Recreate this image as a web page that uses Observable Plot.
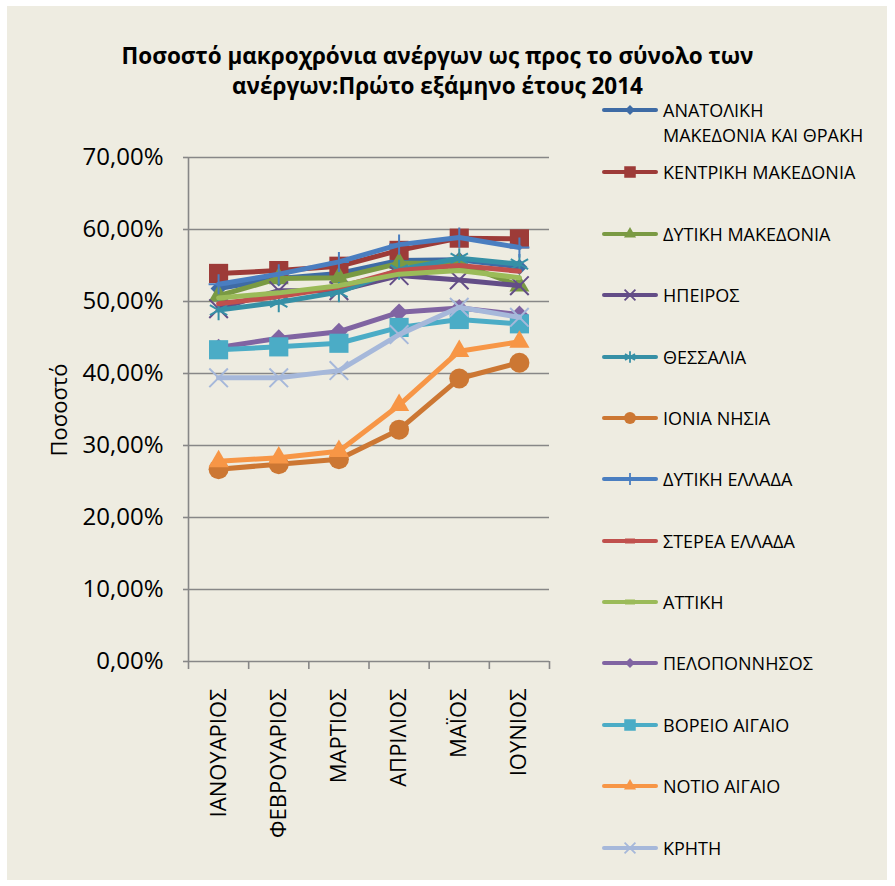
<!DOCTYPE html>
<html><head><meta charset="utf-8">
<script src="https://cdn.jsdelivr.net/npm/d3@7"></script>
<script src="https://cdn.jsdelivr.net/npm/@observablehq/plot@0.6"></script>
<style>
body{margin:0;background:#fff;}
#wrap{position:relative;width:895px;height:886px;background:#fff;font-family:"Open Sans",sans-serif;overflow:hidden;}
#bg{position:absolute;left:7px;top:6px;width:880px;height:874px;background:#EEECE1;}
#title{position:absolute;left:0;width:875px;top:41px;text-align:center;font-weight:bold;font-size:22.5px;line-height:30px;color:#000;}
#chart{position:absolute;left:0;top:0;}
#ytitle{position:absolute;left:58px;top:410px;transform:translate(-50%,-50%) rotate(-90deg);font-size:22px;white-space:nowrap;color:#000;}
.sw{position:absolute;left:601px;}
.lt{position:absolute;left:663px;font-size:18px;line-height:25px;color:#000;white-space:nowrap;}
</style></head>
<body>
<div id="wrap">
  <div id="bg"></div>
  <div id="chart"></div>
  <div id="title">Ποσοστό μακροχρόνια ανέργων ως προς το σύνολο των<br>ανέργων:Πρώτο εξάμηνο έτους 2014</div>
  <div id="ytitle">Ποσοστό</div>
  <div id="legend"></div>
</div>
<script>
const months = ["ΙΑΝΟΥΑΡΙΟΣ","ΦΕΒΡΟΥΑΡΙΟΣ","ΜΑΡΤΙΟΣ","ΑΠΡΙΛΙΟΣ","ΜΑΪΟΣ","ΙΟΥΝΙΟΣ"];
const yTicks = [0,10,20,30,40,50,60,70];

const anatolikiMakedonia = [51.8, 53.2, 53.9, 55.7, 55.8, 54.8];
const kentrikiMakedonia  = [53.9, 54.3, 54.9, 57.1, 58.8, 58.7];
const dytikiMakedonia    = [50.8, 53.2, 53.3, 55.3, 55.3, 52.2];
const ipeiros            = [49.0, 51.5, 51.5, 53.6, 53.0, 52.2];
const thessalia          = [48.8, 49.9, 51.3, 54.4, 56.0, 55.2];
const ioniaNisia         = [26.7, 27.4, 28.1, 32.2, 39.3, 41.5];
const dytikiEllada       = [52.4, 53.8, 55.5, 57.9, 58.9, 57.5];
const stereaEllada       = [49.7, 50.7, 52.0, 54.3, 55.0, 54.2];
const attiki             = [50.5, 51.2, 52.2, 53.8, 54.3, 53.3];
const peloponnisos       = [43.6, 44.9, 45.8, 48.5, 49.1, 48.2];
const voreioAigaio       = [43.3, 43.7, 44.2, 46.4, 47.5, 46.9];
const notioAigaio        = [27.8, 28.3, 29.2, 35.6, 43.1, 44.4];
const kriti              = [39.4, 39.4, 40.4, 45.4, 49.2, 47.8];

const series = [
  {name:["ΑΝΑΤΟΛΙΚΗ","ΜΑΚΕΔΟΝΙΑ ΚΑΙ ΘΡΑΚΗ"], values:anatolikiMakedonia, color:"#3E6BA5", symbol:"diamond2", r:7.2, filled:true, lr:4.5},
  {name:["ΚΕΝΤΡΙΚΗ ΜΑΚΕΔΟΝΙΑ"], values:kentrikiMakedonia, color:"#9D3B38", symbol:"square", r:10.8, filled:true, lr:6.5},
  {name:["ΔΥΤΙΚΗ ΜΑΚΕΔΟΝΙΑ"], values:dytikiMakedonia, color:"#7A9A43", symbol:"triangle", r:7.4, filled:true, lr:4.5},
  {name:["ΗΠΕΙΡΟΣ"], values:ipeiros, color:"#634D87", symbol:"times", r:8.5, filled:false, lr:5},
  {name:["ΘΕΣΣΑΛΙΑ"], values:thessalia, color:"#3690A6", symbol:"asterisk", r:9.5, filled:false, lr:5.5},
  {name:["ΙΟΝΙΑ ΝΗΣΙΑ"], values:ioniaNisia, color:"#CC7733", symbol:"circle", r:10, filled:true, lr:6},
  {name:["ΔΥΤΙΚΗ ΕΛΛΑΔΑ"], values:dytikiEllada, color:"#4A7EC0", symbol:"plus", r:6.5, filled:false, lr:4},
  {name:["ΣΤΕΡΕΑ ΕΛΛΑΔΑ"], values:stereaEllada, color:"#C0504D", symbol:null},
  {name:["ΑΤΤΙΚΗ"], values:attiki, color:"#9BBB59", symbol:null},
  {name:["ΠΕΛΟΠΟΝΝΗΣΟΣ"], values:peloponnisos, color:"#8064A2", symbol:"diamond2", r:8, filled:true, lr:4.5},
  {name:["ΒΟΡΕΙΟ ΑΙΓΑΙΟ"], values:voreioAigaio, color:"#4BACC6", symbol:"square", r:10.8, filled:true, lr:6.5},
  {name:["ΝΟΤΙΟ ΑΙΓΑΙΟ"], values:notioAigaio, color:"#F79646", symbol:"triangle", r:7.5, filled:true, lr:4.5},
  {name:["ΚΡΗΤΗ"], values:kriti, color:"#A6B8DA", symbol:"times", r:8.5, filled:false, lr:5}
];

const fmt = d => d.toFixed(2).replace(".", ",") + "%";
const grid = "#878787";
const idx = months.map((m,i)=>i);
const bounds = [-0.5,0.5,1.5,2.5,3.5,4.5,5.5];

const marks = [
  Plot.ruleY(yTicks, {stroke:grid, strokeWidth:1.6}),
  Plot.ruleX([-0.5], {y1:0, y2:70, stroke:grid, strokeWidth:1.6}),
  Plot.axisY({ticks:yTicks, tickSize:5, tickPadding:20, tickFormat:fmt, fontSize:24, stroke:grid, strokeWidth:1.6, color:"#000", label:null}),
  Plot.axisX({ticks:bounds, tickSize:8, tickFormat:()=>"", stroke:grid, strokeWidth:1.6, label:null}),
  Plot.axisX({ticks:idx, tickSize:0, tickPadding:27, tickRotate:-90, tickFormat:i=>months[i], fontSize:22, color:"#000", label:null})
];
series.forEach(s => {
  const data = s.values.map((v,i)=>({i, v}));
  marks.push(Plot.line(data, {x:"i", y:"v", stroke:s.color, strokeWidth:5, strokeLinejoin:"round", strokeLinecap:"round"}));
  if (s.symbol) {
    marks.push(Plot.dot(data, s.filled
      ? {x:"i", y:"v", symbol:s.symbol, r:s.r, fill:s.color, stroke:"none"}
      : {x:"i", y:"v", symbol:s.symbol, r:s.r, fill:"none", stroke:s.color, strokeWidth:2}));
  }
});

const chart = Plot.plot({
  width:895, height:886,
  marginLeft:188, marginRight:346, marginTop:157, marginBottom:225,
  x:{type:"linear", domain:[-0.5,5.5], axis:null},
  y:{domain:[0,70], axis:null},
  style:{background:"transparent", fontFamily:"Open Sans", overflow:"visible"},
  marks
});
document.getElementById("chart").appendChild(chart);

// legend
const symMap = {diamond2:d3.symbolDiamond2, square:d3.symbolSquare, triangle:d3.symbolTriangle, times:d3.symbolTimes, asterisk:d3.symbolAsterisk, circle:d3.symbolCircle, plus:d3.symbolPlus};
const rowY = [110, 172, 234, 295, 357, 418, 479, 541, 602, 663, 725, 786, 848];
const leg = document.getElementById("legend");
series.forEach((s, k) => {
  const cy = rowY[k];
  const ns = "http://www.w3.org/2000/svg";
  const svg = document.createElementNS(ns, "svg");
  svg.setAttribute("width", 58); svg.setAttribute("height", 22);
  svg.setAttribute("class", "sw");
  svg.style.top = (cy - 11) + "px";
  const ln = document.createElementNS(ns, "line");
  ln.setAttribute("x1", 3); ln.setAttribute("x2", 55); ln.setAttribute("y1", 11); ln.setAttribute("y2", 11);
  ln.setAttribute("stroke", s.color); ln.setAttribute("stroke-width", 4); ln.setAttribute("stroke-linecap","round");
  svg.appendChild(ln);
  if (s.symbol) {
    const p = document.createElementNS(ns, "path");
    p.setAttribute("d", d3.symbol(symMap[s.symbol], Math.PI*s.lr*s.lr)());
    p.setAttribute("transform", "translate(29,11)");
    if (s.filled) { p.setAttribute("fill", s.color); }
    else { p.setAttribute("fill", "none"); p.setAttribute("stroke", s.color); p.setAttribute("stroke-width", 1.8); }
    svg.appendChild(p);
  } else {
    const r = document.createElementNS(ns, "rect");
    r.setAttribute("x", 24); r.setAttribute("y", 8.5); r.setAttribute("width", 10); r.setAttribute("height", 5);
    r.setAttribute("fill", s.color);
    svg.appendChild(r);
  }
  leg.appendChild(svg);
  const t = document.createElement("div");
  t.className = "lt";
  t.style.top = (cy - 12.5) + "px";
  t.innerHTML = s.name.join("<br>");
  leg.appendChild(t);
});
</script>
</body></html>
